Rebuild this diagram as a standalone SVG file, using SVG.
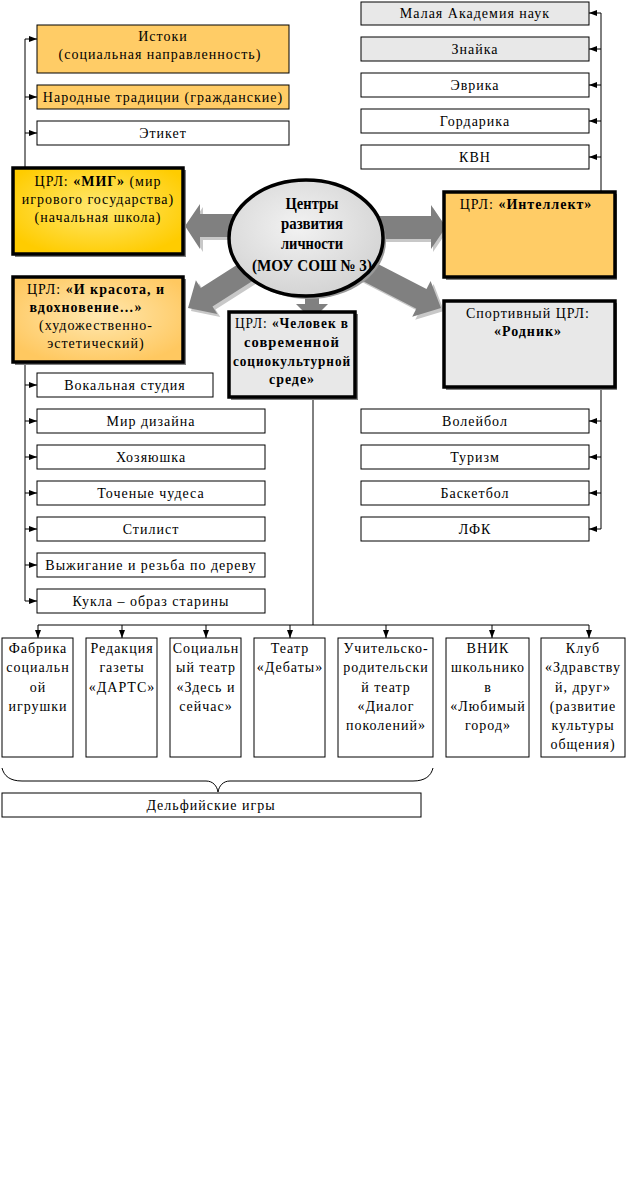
<svg xmlns="http://www.w3.org/2000/svg" width="626" height="1202" viewBox="0 0 626 1202">
<defs>
<style>
.t{font-family:'Liberation Serif','Times New Roman','DejaVu Serif',serif;font-size:14px;letter-spacing:1px;fill:#000;text-anchor:middle}
.b{font-weight:bold}
.box{stroke:#000;stroke-width:1;fill:#fff}
.gray{fill:#e8e8e8}
.org{fill:#ffcc66}
.thick{stroke:#000;stroke-width:3.5}
.sh{fill:#808080}
.ln{stroke:#000;stroke-width:1;fill:none}
.arr{fill:#808080}
.arrsh{fill:#c8c8c8}
.et{font-family:'Liberation Serif','Times New Roman','DejaVu Serif',serif;font-weight:bold;font-size:17px;text-anchor:middle}
</style>
<marker id="ah" viewBox="0 0 8 8" refX="8" refY="4" markerWidth="8" markerHeight="8" markerUnits="userSpaceOnUse" orient="auto">
<path d="M0,1 L8,4 L0,7 Z" fill="#000"/>
</marker>
<radialGradient id="gMig" cx="50%" cy="45%" r="60%">
<stop offset="0" stop-color="#ffe870"/>
<stop offset="1" stop-color="#ffcc00"/>
</radialGradient>
<radialGradient id="gKr" cx="50%" cy="45%" r="60%">
<stop offset="0" stop-color="#ffe8b0"/>
<stop offset="1" stop-color="#ffc860"/>
</radialGradient>
<radialGradient id="gEl" cx="45%" cy="40%" r="60%">
<stop offset="0" stop-color="#f2f2f2"/>
<stop offset="1" stop-color="#d4d4d4"/>
</radialGradient>
</defs>
<rect width="626" height="1202" fill="#fff"/>

<g id="connectors">
<path class="ln" d="M25,170 V39"/>
<path class="ln" d="M25,39 H37" marker-end="url(#ah)"/>
<path class="ln" d="M25,97 H37" marker-end="url(#ah)"/>
<path class="ln" d="M25,133 H37" marker-end="url(#ah)"/>
<path class="ln" d="M601,13 V192"/>
<path class="ln" d="M601,13 H589" marker-end="url(#ah)"/>
<path class="ln" d="M601,49 H589" marker-end="url(#ah)"/>
<path class="ln" d="M601,85 H589" marker-end="url(#ah)"/>
<path class="ln" d="M601,121 H589" marker-end="url(#ah)"/>
<path class="ln" d="M601,157 H589" marker-end="url(#ah)"/>
<path class="ln" d="M25,363 V601"/>
<path class="ln" d="M25,385 H37" marker-end="url(#ah)"/>
<path class="ln" d="M25,421 H37" marker-end="url(#ah)"/>
<path class="ln" d="M25,457 H37" marker-end="url(#ah)"/>
<path class="ln" d="M25,493 H37" marker-end="url(#ah)"/>
<path class="ln" d="M25,529 H37" marker-end="url(#ah)"/>
<path class="ln" d="M25,565 H37" marker-end="url(#ah)"/>
<path class="ln" d="M25,601 H37" marker-end="url(#ah)"/>
<path class="ln" d="M601,388 V529"/>
<path class="ln" d="M601,421 H589" marker-end="url(#ah)"/>
<path class="ln" d="M601,457 H589" marker-end="url(#ah)"/>
<path class="ln" d="M601,493 H589" marker-end="url(#ah)"/>
<path class="ln" d="M601,529 H589" marker-end="url(#ah)"/>
<path class="ln" d="M313,398 V625"/>
<path class="ln" d="M38,625 H589"/>
<path class="ln" d="M38,625 V638" marker-end="url(#ah)"/>
<path class="ln" d="M122,625 V638" marker-end="url(#ah)"/>
<path class="ln" d="M206,625 V638" marker-end="url(#ah)"/>
<path class="ln" d="M290,625 V638" marker-end="url(#ah)"/>
<path class="ln" d="M386,625 V638" marker-end="url(#ah)"/>
<path class="ln" d="M492,625 V638" marker-end="url(#ah)"/>
<path class="ln" d="M589,625 V638" marker-end="url(#ah)"/>
<path class="ln" d="M2,768 C4,776 10,781 22,781 L206,781 C213,781 217,786 218,792 C219,786 223,781 230,781 L413,781 C425,781 431,776 433,768"/>
<g id="blockArrows">
<polygon class="arrsh" points="188,229 203,207 203,217 248,217 248,240 203,240 203,252"/>
<polygon class="arr" points="185,226 200,204 200,214 245,214 245,237 200,237 200,249"/>
<polygon class="arrsh" points="448,230 433,208 433,219 368,219 368,242 433,242 433,252"/>
<polygon class="arr" points="446,227 431,205 431,216 366,216 366,239 431,239 431,249"/>
<polygon class="arrsh" points="191,311 198.9,283.3 203.7,290.9 259.1,255.7 270.9,274.3 215.5,309.5 220.3,317.1"/>
<polygon class="arr" points="188,308 195.9,280.3 200.7,287.9 256.1,252.7 267.9,271.3 212.5,306.5 217.3,314.1"/>
<polygon class="arrsh" points="444,311 433.6,284.1 429.5,292.1 358.1,255.2 347.9,274.8 419.3,311.7 415.2,319.7"/>
<polygon class="arr" points="441,308 430.6,281.1 426.5,289.1 355.1,252.2 344.9,271.8 416.3,308.7 412.2,316.7"/>
<polygon class="arr" points="312,320 296,304 305,304 305,286 319,286 319,304 328,304"/>
</g>
</g>

<g id="center">
<ellipse cx="309" cy="241" rx="77" ry="58" fill="#9a9a9a"/>
<ellipse cx="306" cy="238" rx="77" ry="58" fill="url(#gEl)" stroke="#000" stroke-width="3.5"/>
<text class="et" x="312" y="209" textLength="53" lengthAdjust="spacingAndGlyphs">Центры</text>
<text class="et" x="312" y="229" textLength="62" lengthAdjust="spacingAndGlyphs">развития</text>
<text class="et" x="312" y="249" textLength="62" lengthAdjust="spacingAndGlyphs">личности</text>
<text class="et" x="312" y="271" textLength="120" lengthAdjust="spacingAndGlyphs">(МОУ СОШ № 3)</text>
</g>

<g id="istoki"><rect class="box org" x="37" y="25" width="252" height="48"/>
<text class="t" x="163" y="41">Истоки</text><text class="t" x="160" y="59">(социальная направленность)</text></g>
<g id="narod"><rect class="box org" x="37" y="85" width="252" height="24"/>
<text class="t" x="163" y="102">Народные традиции (гражданские)</text></g>
<g id="etiket"><rect class="box" x="37" y="121" width="252" height="24"/>
<text class="t" x="163" y="138">Этикет</text></g>

<g id="man"><rect class="box gray" x="361" y="2" width="228" height="23"/>
<text class="t" x="475" y="18">Малая Академия наук</text></g>
<g id="znayka"><rect class="box gray" x="361" y="37" width="228" height="24"/>
<text class="t" x="475" y="54">Знайка</text></g>
<g id="evrika"><rect class="box" x="361" y="73" width="228" height="24"/>
<text class="t" x="475" y="90">Эврика</text></g>
<g id="gordarika"><rect class="box" x="361" y="109" width="228" height="24"/>
<text class="t" x="475" y="126">Гордарика</text></g>
<g id="kvn"><rect class="box" x="361" y="145" width="228" height="24"/>
<text class="t" x="475" y="162">КВН</text></g>

<g id="mig"><rect class="sh" x="15" y="170" width="171" height="87"/>
<rect class="thick" fill="url(#gMig)" x="13" y="168" width="170" height="86"/>
<text class="t" x="98" y="186">ЦРЛ: <tspan class="b">«МИГ»</tspan> (мир</text>
<text class="t" x="98" y="204">игрового государства)</text>
<text class="t" x="98" y="222">(начальная школа)</text></g>

<g id="krasota"><rect class="sh" x="15" y="279" width="171" height="86"/>
<rect class="thick" fill="url(#gKr)" x="13" y="277" width="170" height="85"/>
<text class="t" x="96" y="294">ЦРЛ: <tspan class="b">«И красота, и</tspan></text>
<text class="t b" x="86" y="312">вдохновение…»</text>
<text class="t" x="96" y="330">(художественно-</text>
<text class="t" x="96" y="348">эстетический)</text></g>

<g id="intellekt"><rect class="sh" x="446" y="194" width="171" height="86"/>
<rect class="thick org" x="444" y="192" width="171" height="85"/>
<text class="t" x="526" y="209">ЦРЛ: <tspan class="b">«Интеллект»</tspan></text></g>

<g id="rodnik"><rect class="sh" x="446" y="303" width="171" height="87"/>
<rect class="thick gray" x="444" y="301" width="171" height="86"/>
<text class="t" x="528" y="318">Спортивный ЦРЛ:</text>
<text class="t b" x="528" y="336">«Родник»</text></g>

<g id="chelovek"><rect class="sh" x="231" y="314" width="127" height="86"/>
<rect class="thick gray" x="229" y="312" width="126" height="85"/>
<text class="t" x="292" y="328" textLength="114" lengthAdjust="spacingAndGlyphs">ЦРЛ: <tspan class="b">«Человек в</tspan></text>
<text class="t b" x="292" y="347" textLength="96" lengthAdjust="spacingAndGlyphs">современной</text>
<text class="t b" x="292" y="366" textLength="118" lengthAdjust="spacingAndGlyphs">социокультурной</text>
<text class="t b" x="292" y="384" textLength="46" lengthAdjust="spacingAndGlyphs">среде»</text></g>

<g id="vokal"><rect class="box" x="37" y="373" width="176" height="24"/><text class="t" x="125" y="390">Вокальная студия</text></g>
<g id="dizain"><rect class="box" x="37" y="409" width="228" height="24"/><text class="t" x="151" y="426">Мир дизайна</text></g>
<g id="hoz"><rect class="box" x="37" y="445" width="228" height="24"/><text class="t" x="151" y="462">Хозяюшка</text></g>
<g id="tochen"><rect class="box" x="37" y="481" width="228" height="24"/><text class="t" x="151" y="498">Точеные чудеса</text></g>
<g id="stilist"><rect class="box" x="37" y="517" width="228" height="24"/><text class="t" x="151" y="534">Стилист</text></g>
<g id="vyzh"><rect class="box" x="37" y="553" width="228" height="24"/><text class="t" x="151" y="570">Выжигание и резьба по дереву</text></g>
<g id="kukla"><rect class="box" x="37" y="589" width="228" height="24"/><text class="t" x="151" y="606">Кукла – образ старины</text></g>

<g id="voleybol"><rect class="box" x="361" y="409" width="228" height="24"/><text class="t" x="475" y="426">Волейбол</text></g>
<g id="turizm"><rect class="box" x="361" y="445" width="228" height="24"/><text class="t" x="475" y="462">Туризм</text></g>
<g id="basket"><rect class="box" x="361" y="481" width="228" height="24"/><text class="t" x="475" y="498">Баскетбол</text></g>
<g id="lfk"><rect class="box" x="361" y="517" width="228" height="24"/><text class="t" x="475" y="534">ЛФК</text></g>

<g id="fabrika"><rect class="box" x="2" y="638" width="71" height="119"/>
<text class="t" x="38" y="653">Фабрика</text><text class="t" x="38" y="672">социальн</text><text class="t" x="38" y="692">ой</text><text class="t" x="38" y="711">игрушки</text></g>
<g id="redak"><rect class="box" x="86" y="638" width="71" height="119"/>
<text class="t" x="122" y="653">Редакция</text><text class="t" x="122" y="672">газеты</text><text class="t" x="122" y="692">«ДАРТС»</text></g>
<g id="soctea"><rect class="box" x="170" y="638" width="71" height="119"/>
<text class="t" x="206" y="653">Социальн</text><text class="t" x="206" y="672">ый театр</text><text class="t" x="206" y="692">«Здесь и</text><text class="t" x="206" y="711">сейчас»</text></g>
<g id="debaty"><rect class="box" x="254" y="638" width="71" height="119"/>
<text class="t" x="290" y="653">Театр</text><text class="t" x="290" y="672">«Дебаты»</text></g>
<g id="uchit"><rect class="box" x="338" y="638" width="95" height="119"/>
<text class="t" x="386" y="653">Учительско-</text><text class="t" x="386" y="672">родительски</text><text class="t" x="386" y="692">й театр</text><text class="t" x="386" y="711">«Диалог</text><text class="t" x="386" y="730">поколений»</text></g>
<g id="vnik"><rect class="box" x="446" y="638" width="83" height="119"/>
<text class="t" x="488" y="653">ВНИК</text><text class="t" x="488" y="672">школьнико</text><text class="t" x="488" y="692">в</text><text class="t" x="488" y="711">«Любимый</text><text class="t" x="488" y="730">город»</text></g>
<g id="klub"><rect class="box" x="541" y="638" width="84" height="119"/>
<text class="t" x="583" y="653">Клуб</text><text class="t" x="583" y="672">«Здравству</text><text class="t" x="583" y="692">й, друг»</text><text class="t" x="583" y="711">(развитие</text><text class="t" x="583" y="730">культуры</text><text class="t" x="583" y="749">общения)</text></g>

<g id="delfi"><rect class="box" x="2" y="793" width="419" height="24"/><text class="t" x="211" y="810">Дельфийские игры</text></g>
</svg>
